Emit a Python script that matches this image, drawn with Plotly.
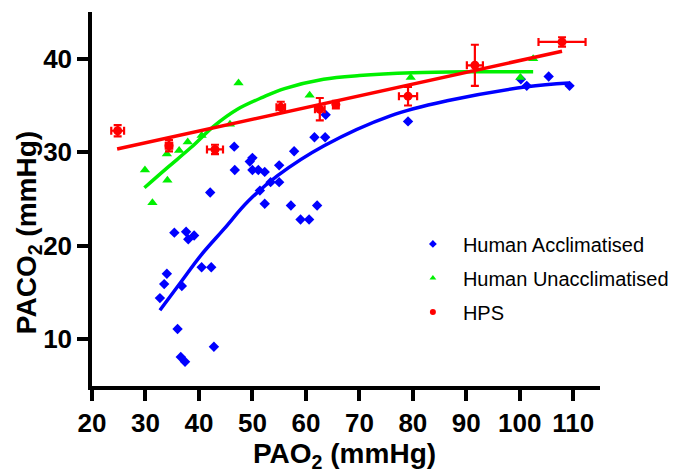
import plotly.graph_objects as go

# ---- data ----
acc_x = [42.1, 35.4, 37.6, 38.0, 39.1, 34.0, 33.5, 32.7, 36.8, 40.5, 42.3, 36.0, 36.6, 37.4, 42.8,
         46.6, 49.5, 50.0, 46.7, 50.0, 51.1, 52.3, 55.0, 57.8, 61.6, 63.6, 63.7, 51.4, 53.4, 55.0,
         52.3, 57.2, 62.1, 59.0, 60.6, 79.1, 100.2, 101.3, 105.4, 109.3]
acc_y = [25.7, 21.4, 21.5, 20.7, 21.1, 17.0, 15.9, 14.4, 15.7, 17.7, 17.7, 11.1, 8.1, 7.6, 9.2,
         30.6, 29.0, 29.4, 28.1, 28.1, 28.1, 27.9, 28.6, 30.1, 31.6, 31.6, 34.0, 25.9, 26.8, 26.8,
         24.5, 24.3, 24.3, 22.8, 22.8, 33.3, 37.8, 37.1, 38.1, 37.1]

unacc_x = [29.9, 34.1, 31.3, 36.3, 34.0, 37.9, 40.5, 45.8, 47.4, 60.7, 79.6, 100.1, 102.5]
unacc_y = [28.1, 27.0, 24.6, 30.2, 29.8, 31.1, 31.8, 33.0, 37.4, 36.1, 38.0, 38.0, 40.0]

hps_x = [24.8, 34.4, 43.0, 55.3, 62.6, 65.6, 79.1, 91.6, 107.9]
hps_y = [32.3, 30.7, 30.3, 34.8, 34.6, 35.1, 36.0, 39.3, 41.8]
hps_ex = [1.2, 0.6, 1.5, 0.8, 0.9, 0.5, 1.7, 1.5, 4.4]
hps_ey = [0.6, 0.6, 0.5, 0.6, 1.2, 0.4, 1.0, 2.2, 0.5]

# fitted curves
acc_fit_x = [32.7, 36.6, 40.4, 44.7, 49.1, 54.7, 63.4, 75.8, 86.4, 101.3, 109.2]
acc_fit_y = [13.1, 16.1, 19.0, 21.8, 24.7, 27.5, 30.7, 33.9, 35.5, 37.0, 37.4]
unacc_fit_x = [29.8, 34.0, 38.5, 42.8, 47.2, 52.0, 56.0, 63.3, 70.0, 80.0, 90.0, 102.5]
unacc_fit_y = [26.2, 28.3, 30.5, 32.8, 34.6, 35.9, 36.8, 37.8, 38.2, 38.5, 38.6, 38.6]
hps_fit_x = [24.7, 107.9]
hps_fit_y = [30.35, 40.8]

x_ticks = [20, 30, 40, 50, 60, 70, 80, 90, 100, 110]
y_ticks = [10, 20, 30, 40]
series_names = ["Human Acclimatised", "Human Unacclimatised", "HPS"]

BLUE = "#0000FF"
GREEN = "#00F000"
RED = "#FF0000"
FONT = "Liberation Sans, Arial, sans-serif"

fig = go.Figure()

# blue
fig.add_trace(go.Scatter(x=acc_x, y=acc_y, mode="markers", showlegend=False,
                         marker=dict(symbol="diamond", size=8, color=BLUE)))
fig.add_trace(go.Scatter(x=acc_fit_x, y=acc_fit_y, mode="lines", showlegend=False,
                         line=dict(color=BLUE, width=3.5, shape="spline", smoothing=1.0)))
# green
fig.add_trace(go.Scatter(x=unacc_x, y=unacc_y, mode="markers", showlegend=False,
                         marker=dict(symbol="triangle-up", size=9, color=GREEN)))
fig.add_trace(go.Scatter(x=unacc_fit_x, y=unacc_fit_y, mode="lines", showlegend=False,
                         line=dict(color=GREEN, width=3.5, shape="spline", smoothing=1.0)))
# red
fig.add_trace(go.Scatter(x=hps_fit_x, y=hps_fit_y, mode="lines", showlegend=False,
                         line=dict(color=RED, width=3.5)))
fig.add_trace(go.Scatter(x=hps_x, y=hps_y, mode="markers", showlegend=False,
                         marker=dict(symbol="circle", size=9, color=RED),
                         error_x=dict(type="data", array=hps_ex, color=RED, thickness=2.2, width=4),
                         error_y=dict(type="data", array=hps_ey, color=RED, thickness=2.2, width=4)))

# legend entries
for name, sym, col in zip(series_names, ["diamond", "triangle-up", "circle"], [BLUE, GREEN, RED]):
    fig.add_trace(go.Scatter(x=[None], y=[None], mode="markers", name=name, legendgroup=name,
                             marker=dict(symbol=sym, size=6, color=col)))

axis_common = dict(showline=True, linecolor="black", linewidth=3.5, ticks="outside",
                   ticklen=11, tickwidth=3.5, tickcolor="black", showgrid=False, zeroline=False,
                   automargin=False,
                   tickfont=dict(family=FONT, size=26, color="black", weight="bold"))

fig.update_layout(
    width=675, height=475,
    margin=dict(l=92, r=75, t=12, b=89, autoexpand=False),
    paper_bgcolor="white", plot_bgcolor="white",
    xaxis=dict(range=[20, 115], tickvals=x_ticks, ticktext=[str(v) for v in x_ticks], **axis_common),
    yaxis=dict(range=[5, 45], tickvals=y_ticks, ticktext=[str(v) for v in y_ticks], **axis_common),
    legend=dict(x=0.612, y=0.432, xanchor="left", yanchor="top", bgcolor="rgba(0,0,0,0)",
                font=dict(family=FONT, size=20, color="black"), tracegroupgap=5,
                itemwidth=50, itemsizing="trace"),
    annotations=[
        dict(text="PAO<sub>2</sub> (mmHg)", xref="paper", yref="paper", x=0.497, y=-0.185,
             xanchor="center", yanchor="middle", showarrow=False,
             font=dict(family=FONT, size=28, color="black", weight="bold")),
        dict(text="PACO<sub>2</sub> (mmHg)", xref="paper", yref="paper", x=-0.125, y=0.41,
             xanchor="center", yanchor="middle", textangle=-90, showarrow=False,
             font=dict(family=FONT, size=28, color="black", weight="bold")),
    ],
)

fig.write_html("out.html", config={"displayModeBar": False},
               post_script="document.body.style.margin='0';document.body.style.overflow='hidden';")
